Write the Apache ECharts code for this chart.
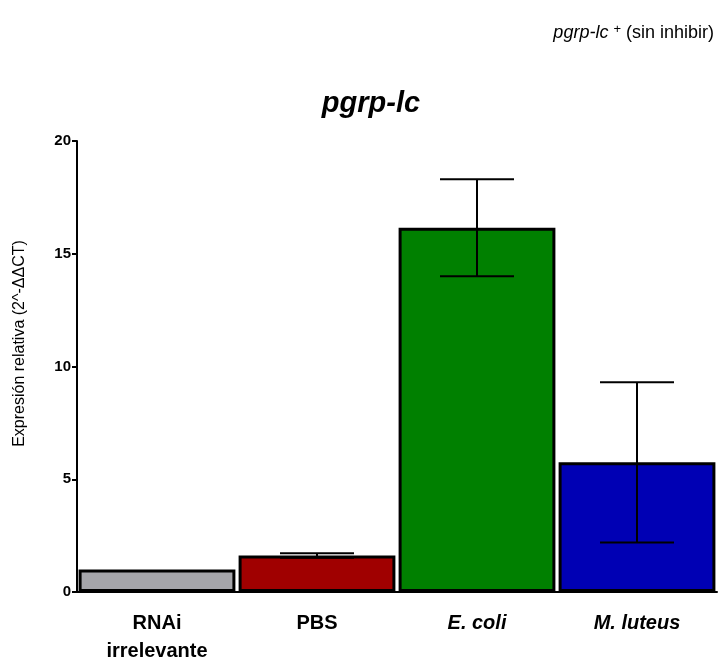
<!doctype html>
<html>
<head>
<meta charset="utf-8">
<title>pgrp-lc</title>
<script src="https://cdn.jsdelivr.net/npm/echarts@6/dist/echarts.min.js"></script>
</head>
<body style="margin:0;background:#fff">
<div id="JS_chart" style="width:720px;height:665px;"></div>
<script type="text/javascript">
var categories = ['RNAi\nirrelevante', 'PBS', 'E. coli', 'M. luteus'];
var means = [1.0, 1.62, 16.15, 5.75];
var errors = [0, 0.1, 2.15, 3.55];
var barColors = ['#a5a5aa', '#a00000', '#008000', '#0000b4'];
var yTicks = [0, 5, 10, 15, 20];

var myChart = echarts.init(document.getElementById('JS_chart'));
var font = "'Liberation Sans', Arial, sans-serif";

var option = {
    animation: false,
    textStyle: { fontFamily: font },
    title: [
        {
            text: 'pgrp-lc',
            left: 366,
            textAlign: 'center',
            top: 84,
            textStyle: { fontSize: 29, fontWeight: 'bold', fontStyle: 'italic', color: '#000', fontFamily: font }
        },
        {
            text: '{i|pgrp-lc} {s|+} {n|(sin inhibir)}',
            right: 1,
            top: 18,
            textStyle: {
                fontWeight: 'normal',
                rich: {
                    i: { fontSize: 18, fontStyle: 'italic', fontWeight: 'normal', color: '#000', fontFamily: font },
                    s: { fontSize: 13, fontWeight: 'normal', color: '#000', fontFamily: font, verticalAlign: 'top', padding: [0, 0, 7, 0] },
                    n: { fontSize: 18, fontWeight: 'normal', color: '#000', fontFamily: font }
                }
            }
        }
    ],
    grid: { left: 77, right: 3, top: 141, bottom: 72 },
    xAxis: {
        type: 'category',
        data: categories,
        axisLine: { lineStyle: { color: '#000', width: 2 } },
        axisTick: { show: false },
        axisLabel: {
            margin: 17,
            fontSize: 20,
            fontWeight: 'bold',
            fontFamily: font,
            color: '#000',
            lineHeight: 28,
            formatter: function (v) {
                if (v === 'E. coli' || v === 'M. luteus') return '{it|' + v + '}';
                return v;
            },
            rich: {
                it: { fontSize: 20, fontWeight: 'bold', fontStyle: 'italic', color: '#000', fontFamily: font }
            }
        }
    },
    yAxis: {
        type: 'value',
        min: 0,
        max: 20,
        interval: 5,
        name: 'Expresión relativa (2^-ΔΔCT)',
        nameLocation: 'middle',
        nameGap: 49,
        nameTextStyle: { fontSize: 16, fontWeight: 'normal', color: '#000', fontFamily: font, padding: [0, 0, 0, 46] },
        axisLine: { show: true, lineStyle: { color: '#000', width: 2 } },
        axisTick: { show: true, length: 5, lineStyle: { color: '#000', width: 2 } },
        axisLabel: {
            fontSize: 15, fontWeight: 'bold', color: '#000', margin: 6, fontFamily: font,
            formatter: function (v) { return yTicks.indexOf(v) >= 0 ? String(v) : ''; }
        },
        splitLine: { show: false }
    },
    series: [
        {
            type: 'bar',
            barCategoryGap: '2%',
            data: means.map(function (v, i) {
                return { value: v, itemStyle: { color: barColors[i] } };
            }),
            itemStyle: { borderColor: '#000', borderWidth: 3 },
            z: 2
        },
        {
            type: 'custom',
            z: 3,
            data: means.map(function (v, i) { return [i, v - errors[i], v + errors[i]]; }),
            renderItem: function (params, api) {
                if (errors[api.value(0)] === 0) return null;
                var lo = api.coord([api.value(0), api.value(1)]);
                var hi = api.coord([api.value(0), api.value(2)]);
                var hw = 37;
                var st = { stroke: '#000', lineWidth: 2 };
                return {
                    type: 'group',
                    children: [
                        { type: 'line', shape: { x1: hi[0], y1: hi[1], x2: lo[0], y2: lo[1] }, style: st },
                        { type: 'line', shape: { x1: hi[0] - hw, y1: hi[1], x2: hi[0] + hw, y2: hi[1] }, style: st },
                        { type: 'line', shape: { x1: lo[0] - hw, y1: lo[1], x2: lo[0] + hw, y2: lo[1] }, style: st }
                    ]
                };
            }
        }
    ]
};
myChart.setOption(option);
</script>
</body>
</html>
